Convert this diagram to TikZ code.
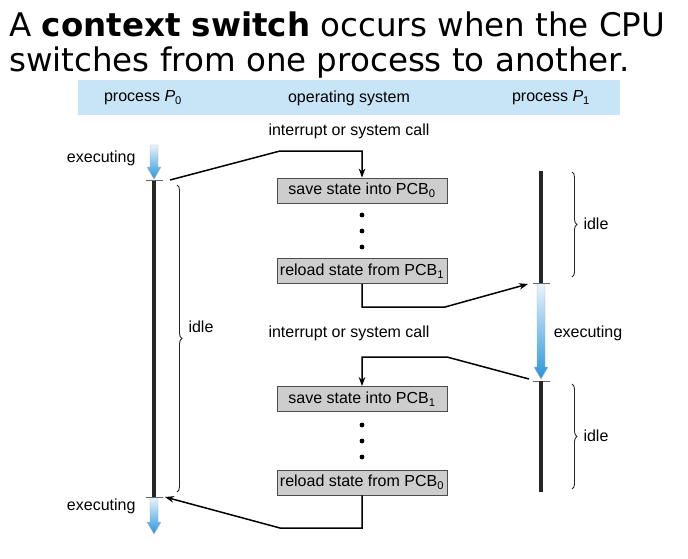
\documentclass[tikz,border=0pt]{standalone}
\usepackage{fontspec}
\setmainfont{Liberation Sans}
\newfontfamily\titlefont{DejaVu Sans}
\usetikzlibrary{positioning,decorations.pathreplacing,arrows.meta}
\definecolor{barblue}{RGB}{200,228,247}
\definecolor{boxgray}{RGB}{205,205,205}
\definecolor{arrowtop}{RGB}{232,244,253}
\definecolor{arrowbot}{RGB}{38,150,222}

% blue "executing" arrow: x, top y, tip y
\newcommand{\execarrow}[3]{%
  \shade[top color=arrowtop,bottom color=arrowbot,draw=gray!60,line width=0.4pt]
    (#1-4,#2) -- (#1+4,#2) -- (#1+4,#3-12) -- (#1+7,#3-12) -- (#1,#3)
    -- (#1-7,#3-12) -- (#1-4,#3-12) -- cycle;}

\begin{document}
\begin{tikzpicture}[x=1pt,y=-1pt,
  every node/.style={font=\fontsize{16}{19}\selectfont},
  statebox/.style={draw=black!70,line width=0.8pt,fill=boxgray,minimum width=170pt,minimum height=25pt,inner sep=0pt},
  conn/.style={line width=1.5pt,-{Stealth[length=9pt,width=6.5pt]}},
  procline/.style={line width=3.2pt,black!85},
  tick/.style={line width=0.8pt,black!60},
  idlebrace/.style={decorate,decoration={brace,amplitude=5pt},line width=0.9pt,black!85}]
\useasboundingbox (0,0) rectangle (688,558);

% title
\node[anchor=north west,align=left,inner sep=0pt,font=\titlefont\fontsize{32.5}{35}\selectfont]
  (title) at (9,12) {A \textbf{context switch} occurs when the CPU\\switches from one process to another.};

% header bar
\fill[barblue] (78,80) rectangle (620,115);
\node (hp0) at (143,98) {process \textit{P}\textsubscript{0}};
\node (hos) at (349,98) {operating system};
\node (hp1) at (551,98) {process \textit{P}\textsubscript{1}};

% operating system side
\node (irq0) at (349,131) {interrupt or system call};
\node[statebox] (save0) at (362,190.5) {save state into PCB\textsubscript{0}};
\node[statebox] (reload1) at (362,271) {reload state from PCB\textsubscript{1}};
\node (irq1) at (349,333) {interrupt or system call};
\node[statebox] (save1) at (362,399) {save state into PCB\textsubscript{1}};
\node[statebox] (reload0) at (362,482.5) {reload state from PCB\textsubscript{0}};
\foreach \y in {215,231,247,425,441,457}
  \fill (362,\y) circle (2.4pt);

% process P0
\execarrow{154}{145}{179}
\node[anchor=east] (ex0a) at (139,158) {executing};
\coordinate (p0top) at (154,180);
\coordinate (p0bot) at (154,497);
\draw[procline] (p0top) -- (p0bot);
\draw[tick] (146,180) -- (163,180);
\draw[tick] (146,497) -- (163,497);
\execarrow{154}{498}{534}
\node[anchor=east] (ex0b) at (139,506) {executing};
\draw[idlebrace] (177,185) -- (177,492);
\node[anchor=west] (idle0) at (185,327) {idle};

% process P1
\coordinate (p1top) at (541,171);
\coordinate (p1mid) at (541,283);
\draw[procline] (p1top) -- (p1mid);
\draw[tick] (533,283) -- (550,283);
\execarrow{541}{284}{379}
\node (ex1) at (588,333) {executing};
\draw[tick] (533,381) -- (550,381);
\draw[procline] (541,381) -- (541,492);
\draw[idlebrace] (572,172) -- (572,277);
\node[anchor=west] (idle1) at (580,224) {idle};
\draw[idlebrace] (572,384) -- (572,489);
\node[anchor=west] (idle2) at (580,436) {idle};

% connectors
\coordinate (from0) at (170,180);
\coordinate (to1) at (528,284);
\coordinate (from1) at (529,379);
\coordinate (to0) at (165,497);
\draw[conn] (from0) -- (280,151) -| (save0.north);
\draw[conn] (reload1.south) |- (445,307) -- (to1);
\draw[conn] (from1) -- (447,357) -| (save1.north);
\draw[conn] (reload0.south) |- (280,528) -- (to0);
\end{tikzpicture}
\end{document}
